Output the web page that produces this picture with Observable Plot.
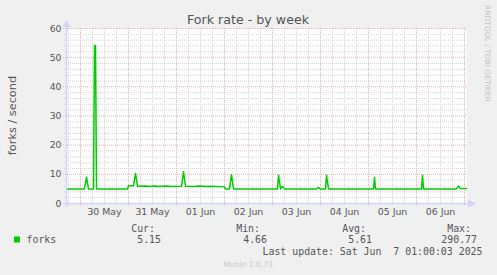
<!DOCTYPE html>
<html><head><meta charset="utf-8">
<script src="https://cdn.jsdelivr.net/npm/d3@7"></script>
<script src="https://cdn.jsdelivr.net/npm/@observablehq/plot@0.6"></script>
<style>
html,body{margin:0;padding:0;background:#f0f0f0;}
#chart{width:497px;height:275px;}
</style></head><body><div id="chart"></div>
<script>
// ---- data ----
const times = [
  "2025-05-29T17:00Z","2025-05-30T02:00Z","2025-05-30T03:00Z","2025-05-30T04:00Z",
  "2025-05-30T06:30Z","2025-05-30T07:00Z","2025-05-30T07:30Z","2025-05-30T08:00Z",
  "2025-05-30T23:30Z","2025-05-31T00:00Z","2025-05-31T02:30Z","2025-05-31T03:30Z",
  "2025-05-31T04:30Z","2025-05-31T09:00Z","2025-05-31T09:30Z","2025-05-31T14:00Z",
  "2025-05-31T14:30Z","2025-05-31T20:00Z","2025-05-31T20:30Z","2025-06-01T02:30Z",
  "2025-06-01T03:30Z","2025-06-01T04:30Z","2025-06-01T10:00Z","2025-06-01T10:30Z",
  "2025-06-01T16:00Z","2025-06-01T16:30Z","2025-06-02T00:00Z","2025-06-02T00:30Z",
  "2025-06-02T02:30Z","2025-06-02T03:30Z","2025-06-02T04:30Z","2025-06-03T02:30Z",
  "2025-06-03T03:00Z","2025-06-03T04:00Z","2025-06-03T05:00Z","2025-06-03T06:00Z",
  "2025-06-03T22:00Z","2025-06-03T23:00Z","2025-06-04T00:00Z","2025-06-04T02:30Z",
  "2025-06-04T03:00Z","2025-06-04T04:00Z","2025-06-05T02:30Z","2025-06-05T03:00Z",
  "2025-06-05T03:30Z","2025-06-06T02:30Z","2025-06-06T03:00Z","2025-06-06T03:30Z",
  "2025-06-06T20:00Z","2025-06-06T21:00Z","2025-06-06T22:00Z","2025-06-07T01:00Z"
];
const values = [
  5.0, 5.0, 9.0, 5.0,
  5.0, 54.2, 54.2, 5.0,
  5.0, 6.1, 6.1, 10.3,
  5.9, 6.0, 5.8, 6.0,
  5.8, 6.0, 5.8, 5.9,
  10.9, 5.9, 5.8, 6.0,
  5.8, 5.9, 5.7, 5.0,
  5.0, 9.9, 5.0, 5.0,
  9.7, 5.0, 5.9, 5.0,
  5.0, 5.5, 5.0, 5.0,
  9.7, 5.0, 5.0, 9.0,
  5.0, 5.0, 9.7, 5.0,
  5.0, 6.0, 5.1, 5.15
];
const xDomain = ["2025-05-29T17:00Z", "2025-06-07T01:00Z"];
const yTicks = [0, 10, 20, 30, 40, 50, 60];
const title = "Fork rate - by week";
const yLabel = "forks / second";
const seriesName = "forks";
const legendHeaders = ["Cur:", "Min:", "Avg:", "Max:"];
const legendValues = ["5.15", "4.66", "5.61", "290.77"];
const lastUpdate = "Last update: Sat Jun  7 01:00:03 2025";
const footer = "Munin 2.0.73";
const watermark = "RRDTOOL / TOBI OETIKER";

// ---- build ----
const data = times.map((t, i) => ({t: new Date(t), v: values[i]}));
const start = new Date(xDomain[0]), end = new Date(xDomain[1]);
const majorX = d3.utcDay.range(start, end);
const minorX = d3.utcHour.every(6).range(start, end).filter(d => d.getUTCHours() !== 0);
const labelX = majorX.map(d => d3.utcHour.offset(d, 12)).filter(d => d < end);
const minorY = d3.range(0, 61, 2).filter(v => v % 10 !== 0);

const green = "#00cc00";
const gridMinor = "#d4d4d4";
const gridMajor = "#ebb0b0";
const axisCol = "#cfd6f8";
const fontCol = "#555";

const plot = Plot.plot({
  width: 497, height: 275,
  marginLeft: 66, marginRight: 31, marginTop: 28, marginBottom: 72,
  style: {background: "transparent", fontFamily: "DejaVu Sans", fontSize: "9.33px", color: fontCol},
  x: {type: "utc", domain: [start, end]},
  y: {domain: [0, 60]},
  marks: [
    Plot.frame({fill: "white", stroke: null}),
    Plot.ruleX(minorX, {stroke: gridMinor, strokeDasharray: "1,1", insetBottom: -2}),
    Plot.ruleY(minorY, {stroke: gridMinor, strokeDasharray: "1,1", insetLeft: -2}),
    Plot.ruleX(majorX, {stroke: gridMajor, strokeDasharray: "1,1", insetBottom: -3}),
    Plot.ruleY(yTicks.filter(v => v > 0), {stroke: gridMajor, strokeDasharray: "1,1", insetLeft: -3}),
    Plot.axisY({ticks: yTicks, tickSize: 0, tickPadding: 5, fontSize: 9.33, label: null}),
    Plot.axisX({ticks: labelX, tickSize: 0, tickPadding: 5, tickFormat: d3.utcFormat("%d %b"), fontSize: 9.33, label: null}),
    Plot.line(data, {x: "t", y: "v", stroke: green, strokeWidth: 1.5})
  ]
});
document.getElementById("chart").appendChild(plot);

const svg = d3.select(plot);
const xs = plot.scale("x"), ys = plot.scale("y");
const [x0, x1] = xs.range, [y0, y1] = ys.range; // y0 bottom, y1 top

// axes with arrows
svg.append("line").attr("x1", x0 - 3).attr("x2", x1 + 3).attr("y1", y0 + 0.5).attr("y2", y0 + 0.5)
  .attr("stroke", axisCol).attr("stroke-width", 1.5);
svg.append("line").attr("x1", x0 + 0.5).attr("x2", x0 + 0.5).attr("y1", y0 + 4).attr("y2", y1 - 3)
  .attr("stroke", axisCol).attr("stroke-width", 1.5);
svg.append("path").attr("d", `M${x1 + 2},${y0 - 3.5}L${x1 + 10},${y0 + 0.5}L${x1 + 2},${y0 + 4.5}Z`).attr("fill", axisCol);
svg.append("path").attr("d", `M${x0 - 3.5},${y1 - 1}L${x0 + 0.5},${y1 - 8}L${x0 + 4.5},${y1 - 1}Z`).attr("fill", axisCol);

const txt = (x, y, s, opts = {}) => svg.append("text")
  .attr("x", x).attr("y", y)
  .attr("text-anchor", opts.anchor || "start")
  .attr("font-family", opts.family || "DejaVu Sans")
  .attr("font-size", opts.size || "9.33px")
  .attr("fill", opts.fill || fontCol)
  .style("white-space", "pre")
  .text(s);

// title
txt(248, 23.5, title, {anchor: "middle", size: "12.67px"});
// y label
txt(0, 0, yLabel, {anchor: "middle", size: "11.3px"})
  .attr("transform", `translate(16,${(y0 + y1) / 2}) rotate(-90)`);
// watermark
txt(0, 0, watermark, {size: "7.5px", fill: "#c4c4c4"}).attr("transform", `translate(485,5) rotate(90)`);

// legend
const mono = "DejaVu Sans Mono";
const hdrX = [155, 260, 366, 471];
const valX = [161, 267, 372, 477];
legendHeaders.forEach((h, i) => {
  txt(hdrX[i], 231.5, h, {anchor: "end", family: mono, size: "9.9px"});
  txt(valX[i], 243, legendValues[i], {anchor: "end", family: mono, size: "9.9px"});
});
svg.append("rect").attr("x", 14).attr("y", 236.5).attr("width", 6).attr("height", 6).attr("fill", green);
txt(26.5, 243, seriesName, {family: mono, size: "9.9px"});
txt(482.5, 254.5, lastUpdate, {anchor: "end", family: mono, size: "9.9px"});
txt(248, 267, footer, {anchor: "middle", size: "7.6px", fill: "#c8c8c8"});
</script></body></html>
